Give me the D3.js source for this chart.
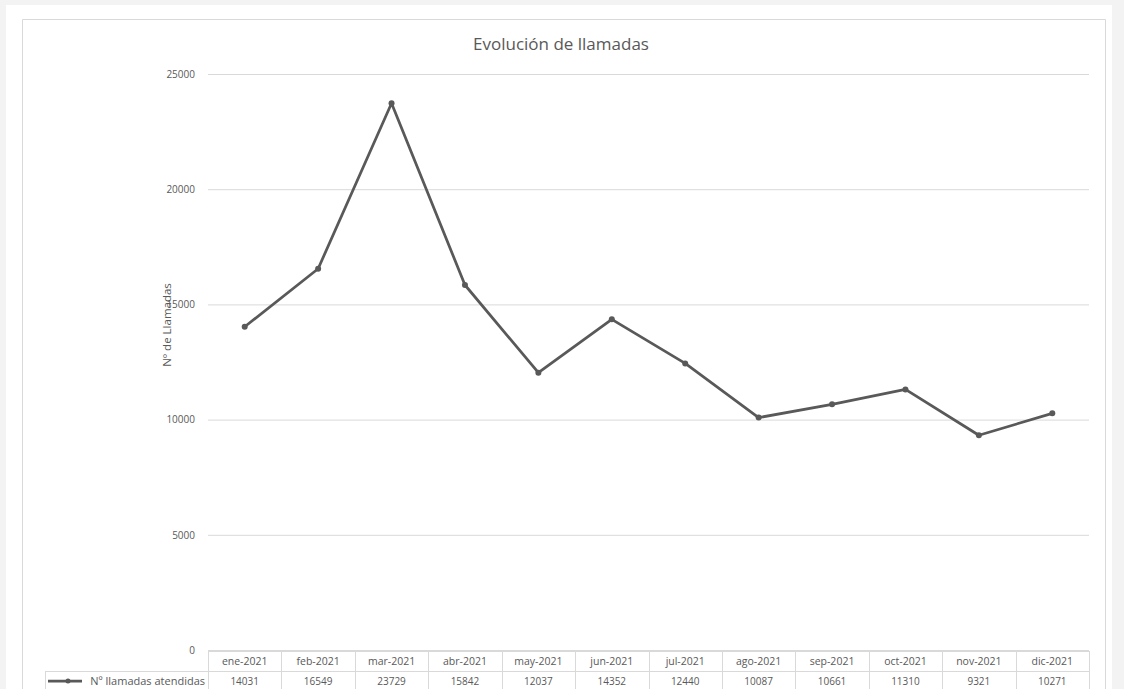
<!DOCTYPE html>
<html>
<head>
<meta charset="utf-8">
<script src="https://cdn.jsdelivr.net/npm/d3@7"></script>
<style>
  html, body { margin: 0; padding: 0; background: #f3f3f3; overflow: hidden; }
  svg { display: block; font-family: "Open Sans", sans-serif; }
</style>
</head>
<body>
<svg width="1124" height="689"></svg>
<script>
const months = ["ene-2021", "feb-2021", "mar-2021", "abr-2021", "may-2021", "jun-2021",
  "jul-2021", "ago-2021", "sep-2021", "oct-2021", "nov-2021", "dic-2021"];
const calls = [14031, 16549, 23729, 15842, 12037, 14352, 12440, 10087, 10661, 11310, 9321, 10271];
const yTicks = [0, 5000, 10000, 15000, 20000, 25000];
const seriesName = "Nº llamadas atendidas";
const title = "Evolución de llamadas";
const yTitle = "Nº de Llamadas";

const width = 1124;
const height = 689;
const margin = { top: 74, right: 35, bottom: 39, left: 208 };
const innerWidth = width - margin.left - margin.right;
const innerHeight = height - margin.top - margin.bottom;
const textColor = "#595959";
const lineColor = "#595959";
const gridColor = "#d9d9d9";

const svg = d3.select("svg");

// page panel + chart frame (open at the bottom, like the cropped screenshot)
svg.append("rect").attr("x", 6).attr("y", 5).attr("width", 1106).attr("height", height - 5).attr("fill", "#fff");
svg.append("path")
  .attr("d", `M22.5,${height} V19.5 H1105.5 V${height}`)
  .attr("fill", "none").attr("stroke", "#d9d9d9");

svg.append("text")
  .attr("x", 561)
  .attr("y", 50)
  .attr("text-anchor", "middle")
  .attr("font-size", 17)
  .attr("fill", textColor)
  .text(title);

const xScale = d3.scaleBand().domain(months).range([0, innerWidth]);
const yScale = d3.scaleLinear().domain([0, 25000]).range([innerHeight, 0]);

const chart = svg.append("g").attr("transform", `translate(${margin.left}, ${margin.top})`);

// gridlines + y labels
const yAxis = chart.append("g")
  .call(d3.axisLeft(yScale).tickValues(yTicks).tickFormat(d3.format("d")).tickSize(-innerWidth).tickPadding(13));
yAxis.select(".domain").remove();
yAxis.selectAll(".tick line").attr("stroke", gridColor);
yAxis.selectAll(".tick text").attr("fill", textColor).attr("font-size", 10).attr("font-family", "'Open Sans', sans-serif");

svg.append("text")
  .attr("transform", "rotate(-90)")
  .attr("x", -325)
  .attr("y", 171)
  .attr("text-anchor", "middle")
  .attr("font-size", 11.5)
  .attr("fill", textColor)
  .text(yTitle);

// line
const cx = (i) => xScale(months[i]) + xScale.bandwidth() / 2;
const line = d3.line()
  .x((d, i) => cx(i))
  .y((d) => yScale(d));

chart.append("path")
  .datum(calls)
  .attr("fill", "none")
  .attr("stroke", lineColor)
  .attr("stroke-width", 2.75)
  .attr("stroke-linejoin", "round")
  .attr("d", line);

chart.selectAll(".pt")
  .data(calls)
  .enter()
  .append("circle")
  .attr("class", "pt")
  .attr("cx", (d, i) => cx(i))
  .attr("cy", (d) => yScale(d))
  .attr("r", 3)
  .attr("fill", lineColor);

// data table
const rowH = 20;
const table = chart.append("g").attr("transform", `translate(0, ${innerHeight + 1})`);
table.append("line").attr("x1", 0).attr("x2", innerWidth).attr("y1", 0.5).attr("y2", 0.5).attr("stroke", gridColor);
table.append("line").attr("x1", 45 - margin.left).attr("x2", innerWidth).attr("y1", rowH + 0.5).attr("y2", rowH + 0.5).attr("stroke", gridColor);
table.append("line").attr("x1", 45.5 - margin.left).attr("x2", 45.5 - margin.left).attr("y1", rowH).attr("y2", 40).attr("stroke", gridColor);

table.selectAll(".vline")
  .data(d3.range(months.length + 1))
  .enter()
  .append("line")
  .attr("x1", (i) => Math.round(i * xScale.bandwidth()) + 0.5)
  .attr("x2", (i) => Math.round(i * xScale.bandwidth()) + 0.5)
  .attr("y1", 0)
  .attr("y2", 40)
  .attr("stroke", gridColor);

table.selectAll(".month")
  .data(months)
  .enter()
  .append("text")
  .attr("x", (d) => xScale(d) + xScale.bandwidth() / 2)
  .attr("y", 14)
  .attr("text-anchor", "middle")
  .attr("font-size", 10.5)
  .attr("fill", textColor)
  .text((d) => d);

table.selectAll(".val")
  .data(calls)
  .enter()
  .append("text")
  .attr("x", (d, i) => cx(i))
  .attr("y", rowH + 13.5)
  .attr("text-anchor", "middle")
  .attr("font-size", 10)
  .attr("fill", textColor)
  .text((d) => d);

// legend key inside table
const key = table.append("g").attr("transform", `translate(${48 - margin.left}, ${rowH + 10})`);
key.append("line").attr("x1", 0).attr("x2", 34).attr("y1", 0).attr("y2", 0)
  .attr("stroke", lineColor).attr("stroke-width", 2.75);
key.append("circle").attr("cx", 20).attr("cy", 0).attr("r", 2.5).attr("fill", lineColor);
table.append("text")
  .attr("x", -3)
  .attr("y", rowH + 13.5)
  .attr("text-anchor", "end")
  .attr("font-size", 11)
  .attr("fill", textColor)
  .text(seriesName);
</script>
</body>
</html>
